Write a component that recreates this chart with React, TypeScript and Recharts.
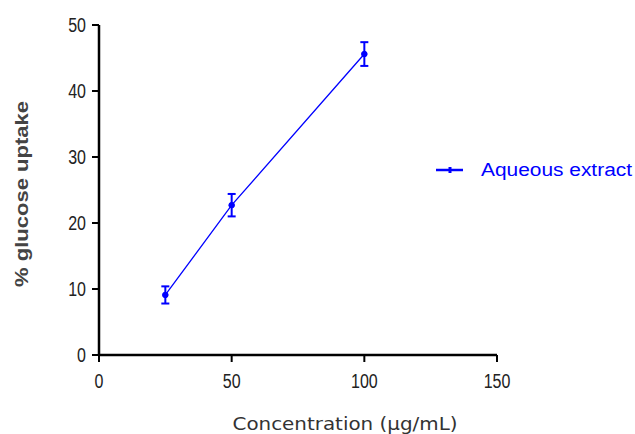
import React from "react"
import { LineChart, Line, XAxis, YAxis, ErrorBar, Legend, Label } from "recharts"

// concentration (µg/mL) vs % glucose uptake
const concentrations = [25, 50, 100]
const uptake = [9.1, 22.7, 45.6]
const uptakeSem = [1.3, 1.7, 1.8]
const xTicks = [0, 50, 100, 150]
const yTicks = [0, 10, 20, 30, 40, 50]

const seriesName = "Aqueous extract"
const blue = "#0000ff"

const data = concentrations.map((c, i) => ({ conc: c, value: uptake[i], err: uptakeSem[i] }))

const font = "'Liberation Sans', Arial, sans-serif"

// the original figure's tick digits are stretched vertically
const XTick = ({ x, y, payload }: any) => (
  <g transform={`translate(${x},${y}) scale(1,1.25)`}>
    <text x={0} y={19} textAnchor="middle" fill="#222" fontFamily={font} fontSize={16}>
      {payload.value}
    </text>
  </g>
)

const YTick = ({ x, y, payload }: any) => (
  <g transform={`translate(${x},${y}) scale(1,1.25)`}>
    <text x={0} y={5.7} textAnchor="end" fill="#222" fontFamily={font} fontSize={16}>
      {payload.value}
    </text>
  </g>
)

const LegendBox = () => (
  <svg width={205} height={30} style={{ display: "block" }}>
    <line x1={6} y1={15} x2={33} y2={15} stroke={blue} strokeWidth={2.5} />
    <line x1={20} y1={12} x2={20} y2={18} stroke={blue} strokeWidth={3} />
    <text x={51} y={21} fill={blue} fontFamily={font} fontSize={18} textLength={151} lengthAdjust="spacingAndGlyphs">
      {seriesName}
    </text>
  </svg>
)

export default function App() {
  return (
    <div style={{ position: "absolute", left: 0, top: 0, background: "#fff" }}>
      <LineChart width={635} height={434} data={data} margin={{ top: 25, right: 138, left: 0, bottom: 0 }}>
        <XAxis
          dataKey="conc"
          type="number"
          domain={[0, 150]}
          ticks={xTicks}
          height={79}
          axisLine={{ stroke: "#000", strokeWidth: 2.5 }}
          tickLine={{ stroke: "#000", strokeWidth: 2 }}
          tickSize={7}
          tickMargin={2}
          tick={<XTick />}
        >
          <Label
            content={() => (
              <text x={345} y={430} textAnchor="middle" fill="#333" fontFamily="'DejaVu Sans', sans-serif" fontSize={17} textLength={225} lengthAdjust="spacingAndGlyphs">
                Concentration (µg/mL)
              </text>
            )}
          />
        </XAxis>
        <YAxis
          type="number"
          domain={[0, 50]}
          ticks={yTicks}
          width={99}
          axisLine={{ stroke: "#000", strokeWidth: 2.5 }}
          tickLine={{ stroke: "#000", strokeWidth: 2 }}
          tickSize={7}
          tickMargin={6}
          tick={<YTick />}
        >
          <Label
            content={() => (
              <text x={28} y={194} transform="rotate(-90 28 194)" textAnchor="middle" fill="#444" fontWeight="bold" fontFamily={font} fontSize={18} textLength={186} lengthAdjust="spacingAndGlyphs">
                % glucose uptake
              </text>
            )}
          />
        </YAxis>
        <Legend
          content={<LegendBox />}
          wrapperStyle={{ position: "absolute", left: 430, top: 155, width: 0, height: 0, overflow: "visible" }}
        />
        <Line
          type="linear"
          dataKey="value"
          name={seriesName}
          stroke={blue}
          strokeWidth={1.3}
          dot={{ r: 2.8, fill: blue, stroke: blue, strokeWidth: 1 }}
          isAnimationActive={false}
        >
          <ErrorBar dataKey="err" width={4} stroke={blue} strokeWidth={2} direction="y" />
        </Line>
      </LineChart>
    </div>
  )
}
